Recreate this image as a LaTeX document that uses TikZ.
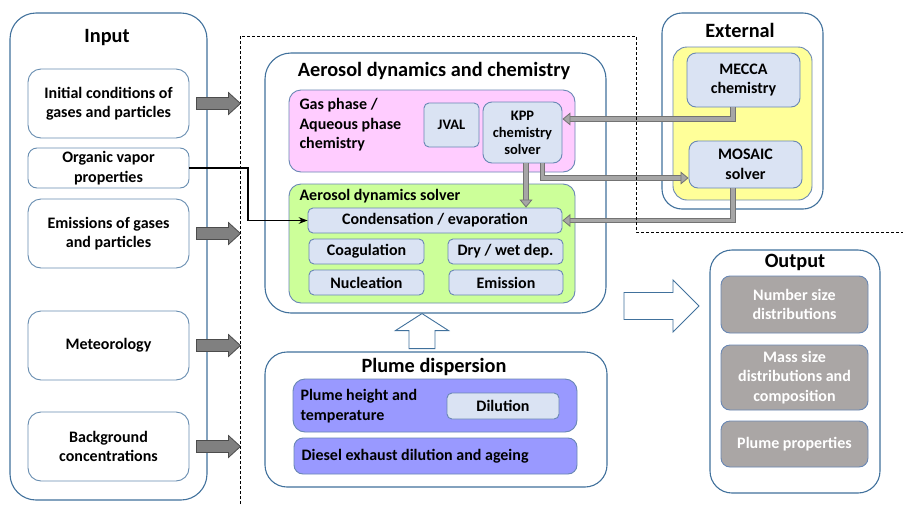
\documentclass[tikz,border=0pt]{standalone}
\usepackage{fontspec}
\setmainfont{Carlito}
\usetikzlibrary{arrows.meta}
\definecolor{frameblue}{RGB}{65,113,156}
\definecolor{itemfill}{RGB}{218,227,243}
\definecolor{itemline}{RGB}{105,135,180}
\definecolor{gaspink}{RGB}{255,204,255}
\definecolor{solvergreen}{RGB}{204,255,153}
\definecolor{extyellow}{RGB}{255,255,153}
\definecolor{plumeblue}{RGB}{153,153,255}
\definecolor{outgray}{RGB}{170,166,165}
\begin{document}
\begin{tikzpicture}[x=1pt,y=-1pt,>=Stealth,font=\bfseries\fontsize{16}{19.5}\selectfont,
  group box/.style={draw=frameblue,line width=1.1pt,rounded corners=26pt,fill=white},
  title/.style={font=\bfseries\fontsize{20.3}{24}\selectfont},
  input box/.style={draw=frameblue!80,line width=0.9pt,rounded corners=13pt,minimum width=161pt,align=center},
  phase box/.style={draw=itemline,line width=0.9pt,rounded corners=12pt},
  item box/.style={draw=itemline,fill=itemfill,line width=0.9pt,rounded corners=5pt,align=center,inner sep=1pt},
  small/.style={font=\bfseries\fontsize{14.5}{17}\selectfont},
  out box/.style={draw=itemline,fill=outgray,text=white,line width=0.9pt,rounded corners=9pt,minimum width=147pt,align=center},
  pipe/.style={draw=black!55,double=gray!70,double distance=3.6pt,line width=0.8pt,
    -{Triangle[width=13pt,length=8pt,fill=gray!70]}},
  feed/.style={->,line width=1.3pt},
  hollow/.style={draw=frameblue,line width=0.9pt,fill=white},
  gray arrow/.pic={\draw[fill=gray!100,draw=black!70,line width=0.8pt] (0,-6) -- (32,-6) -- (32,-11) -- (44,0) -- (32,11) -- (32,6) -- (0,6) -- cycle;}]
\useasboundingbox (0,0) rectangle (903,504);

% input
\node[group box,minimum width=197pt,minimum height=487pt] (input) at (108.5,256.5) {};
\node[title] (inputtitle) at (107,38) {Input};
\node[input box,minimum height=69pt] (ic) at (108.5,103.5) {Initial conditions of\\gases and particles};
\node[input box,minimum height=40pt,rounded corners=9pt] (ov) at (108.5,168) {Organic vapor\\properties};
\node[input box,minimum height=69pt] (em) at (108.5,233.5) {Emissions of gases\\and particles};
\node[input box,minimum height=69pt] (met) at (108.5,345.5) {Meteorology};
\node[input box,minimum height=69pt] (bg) at (108.5,446.5) {Background\\concentrations};
\pic at ([xshift=7]ic.east) {gray arrow};
\pic at ([xshift=7]em.east) {gray arrow};
\pic at ([xshift=7]met.east) {gray arrow};
\pic at ([xshift=7]bg.east) {gray arrow};

% aerosol dynamics and chemistry
\node[group box,minimum width=341pt,minimum height=260pt] (aero) at (435.5,183) {};
\node[title] (aerotitle) at (434,71) {Aerosol dynamics and chemistry};
\node[phase box,fill=gaspink,minimum width=286pt,minimum height=82pt] (gas) at (432,131) {};
\node[anchor=west,align=left] (gastext) at (296,125) {Gas phase /\\Aqueous phase\\chemistry};
\node[item box,small,minimum width=55pt,minimum height=44pt] (jval) at (451.5,125) {JVAL};
\node[item box,small,rounded corners=9pt,minimum width=79pt,minimum height=61pt] (kpp) at (522.5,132.5) {KPP\\chemistry\\solver};
\node[phase box,fill=solvergreen,minimum width=286pt,minimum height=119pt] (solver) at (432,243.5) {};
\node[anchor=west] (solvertitle) at (296,196) {Aerosol dynamics solver};
\node[item box,minimum width=254pt,minimum height=25pt] (cond) at (435,220.5) {Condensation / evaporation};
\node[item box,minimum width=115pt,minimum height=25pt] (coag) at (366.5,251.5) {Coagulation};
\node[item box,minimum width=115pt,minimum height=25pt] (dep) at (505.5,251.5) {Dry / wet dep.};
\node[item box,minimum width=115pt,minimum height=25pt] (nucl) at (366.5,282.5) {Nucleation};
\node[item box,minimum width=114pt,minimum height=25pt] (emis) at (506,282.5) {Emission};

% plume dispersion
\node[group box,rounded corners=22pt,minimum width=342pt,minimum height=135pt] (plume) at (436,419.5) {};
\node[title] (plumetitle) at (434,367) {Plume dispersion};
\node[phase box,fill=plumeblue,minimum width=284pt,minimum height=53pt] (height) at (435,405.5) {};
\node[anchor=west,align=left] (heighttext) at (297,406) {Plume height and\\temperature};
\node[item box,minimum width=112pt,minimum height=26pt] (dil) at (503,406) {Dilution};
\node[phase box,fill=plumeblue,rounded corners=9pt,minimum width=283pt,minimum height=36pt] (diesel) at (435.5,456) {};
\node[anchor=west] (dieseltext) at (298,456) {Diesel exhaust dilution and ageing};
\draw[hollow] ([xshift=-13.5]aero.south) -- ++(26.5,17) -- ++(-13.5,0) -- ++(0,18) -- ++(-26,0) -- ++(0,-18) -- ++(-13.5,0) -- cycle;

% external
\node[group box,rounded corners=20pt,minimum width=161pt,minimum height=196pt] (ext) at (742.5,111) {};
\node[title] (exttitle) at (740,30) {External};
\node[phase box,fill=extyellow,rounded corners=14pt,minimum width=139pt,minimum height=153pt] (yel) at (742.5,123.5) {};
\node[item box,rounded corners=9pt,minimum width=113pt,minimum height=54pt] (mecca) at (743.5,80) {MECCA\\chemistry};
\node[item box,rounded corners=9pt,minimum width=113pt,minimum height=47pt] (mosaic) at (745.5,164.5) {MOSAIC\\solver};

% output
\node[group box,rounded corners=22pt,minimum width=170pt,minimum height=243pt] (out) at (795,371.5) {};
\node[title] (outtitle) at (795,262) {Output};
\node[out box,minimum height=57pt] (nsd) at (794.5,304.5) {Number size\\distributions};
\node[out box,minimum height=65pt] (msd) at (794.5,377.5) {Mass size\\distributions and\\composition};
\node[out box,minimum height=46pt] (pp) at (794.5,444) {Plume properties};
\draw[hollow] (699,306) -- ++(-26,-26) -- ++(0,12.5) -- ++(-49,0) -- ++(0,27) -- ++(49,0) -- ++(0,12.5) -- cycle;

% connections
\coordinate (kppdown) at ([xshift=3.5]kpp.south);
\coordinate (bend) at (248,168);
\draw[pipe] ([xshift=-10.5]mecca.south) |- ([yshift=13.5]kpp.east);
\draw[pipe] ([xshift=20]kpp.south) |- ([yshift=-13.5]mosaic.west);
\draw[pipe] ([xshift=-12.5]mosaic.south) |- (cond.east);
\draw[pipe] (kppdown) -- (kppdown |- cond.north);
\draw[feed] (ov.east) -- (bend) |- (cond.west);
\draw[dashed,dash pattern=on 3pt off 2pt,line width=0.9pt] (240,504) -- (240,36) -- (636,36) -- (636,232) -- (903,232);
\end{tikzpicture}
\end{document}
